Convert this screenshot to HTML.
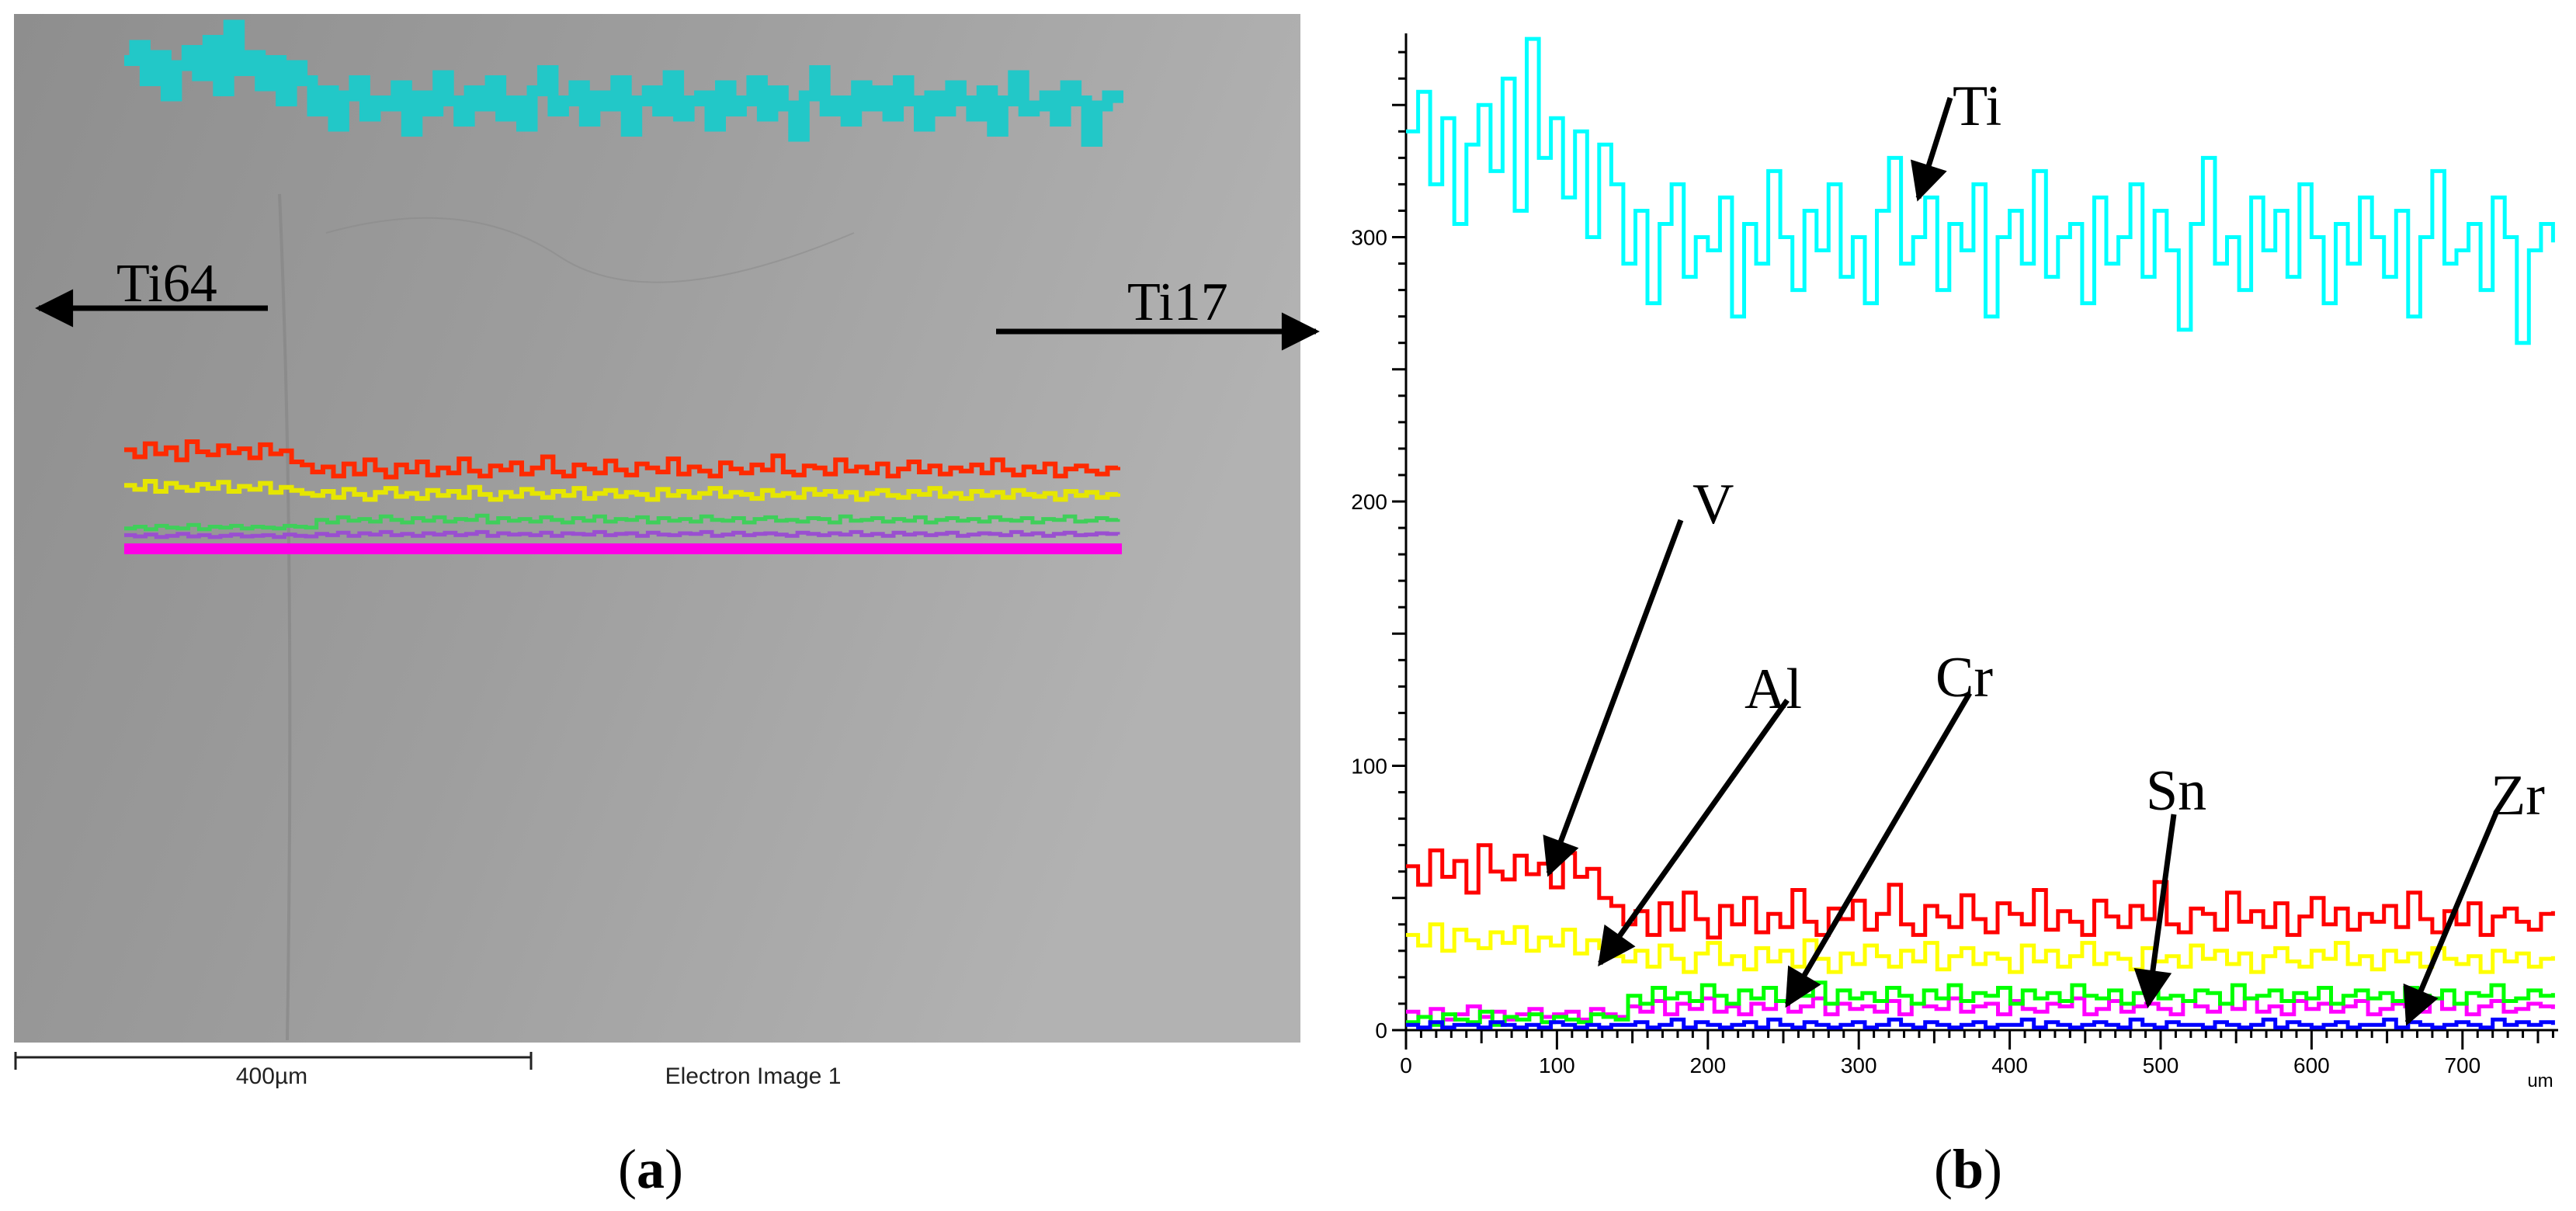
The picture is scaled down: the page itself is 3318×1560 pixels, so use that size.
<!DOCTYPE html>
<html><head><meta charset="utf-8">
<style>
html,body{margin:0;padding:0;background:#fff;}
body{width:3318px;height:1560px;overflow:hidden;position:relative;font-family:"Liberation Sans",sans-serif;}
svg{position:absolute;left:0;top:0;}
</style></head>
<body>
<svg id="fig" width="3318" height="1560" viewBox="0 0 3318 1560">
  <defs>
    <linearGradient id="bg" x1="0" y1="0" x2="1" y2="0.3">
      <stop offset="0" stop-color="#8e8e8e"/>
      <stop offset="0.5" stop-color="#9e9e9e"/>
      <stop offset="1" stop-color="#b2b2b2"/>
    </linearGradient>
    <marker id="ah" viewBox="0 0 10 10" refX="9" refY="5" markerWidth="8" markerHeight="7" orient="auto-start-reverse" markerUnits="strokeWidth">
      <path d="M0,0 L10,5 L0,10 z" fill="#000"/>
    </marker>
  </defs>
  <g>
    <rect x="18" y="18" width="1657" height="1325" fill="url(#bg)"/>
    <path d="M360,250 Q380,700 370,1340" stroke="#7f7f7f" stroke-width="4" fill="none" opacity="0.5"/>
    <path d="M420,300 Q600,250 720,330 T1100,300" stroke="#888" stroke-width="2" fill="none" opacity="0.5"/>
    <g id="overlay"></g>
    <text x="150" y="388" font-family="Liberation Serif, serif" font-size="70" fill="#000">Ti64</text>
    <line x1="345" y1="397" x2="50" y2="397" stroke="#000" stroke-width="7" marker-end="url(#ah)"/>
    <text x="1452" y="412" font-family="Liberation Serif, serif" font-size="70" fill="#000">Ti17</text>
    <line x1="1283" y1="427" x2="1695" y2="427" stroke="#000" stroke-width="7" marker-end="url(#ah)"/>
    <g>
      <line x1="19" y1="1362" x2="685" y2="1362" stroke="#222" stroke-width="3"/>
      <line x1="20" y1="1355" x2="20" y2="1378" stroke="#222" stroke-width="3"/>
      <line x1="684" y1="1355" x2="684" y2="1378" stroke="#222" stroke-width="3"/>
      <text x="350" y="1396" font-size="30" text-anchor="middle" fill="#222">400µm</text>
    </g>
    <text x="970" y="1396" font-size="30" text-anchor="middle" fill="#222">Electron Image 1</text>
    <text x="838" y="1530" font-family="Liberation Serif, serif" font-size="72" text-anchor="middle" fill="#000">(<tspan font-weight="bold">a</tspan>)</text>
  </g>
  <g id="chart"></g>
  <text x="2535" y="1530" font-family="Liberation Serif, serif" font-size="72" text-anchor="middle" fill="#000">(<tspan font-weight="bold">b</tspan>)</text>
</svg>
<script>
const xTicks = [0,100,200,300,400,500,600,700];
const yTicks = [0,100,200,300];
const seriesNames = ["Ti","V","Al","Cr","Sn","Zr"];
const tiValues = [340,355,320,345,305,335,350,325,360,310,375,330,345,315,340,300,335,320,
290,310,275,305,320,285,300,295,315,270,305,290,325,300,280,310,295,320,285,300,275,310,330,290,300,315,280,305,295,320,270,300,310,290,325,285,300,305,275,315,290,300,320,285,310,295,265,305,330,290,300,280,315,295,310,285,320,300,275,305,290,315,300,285,310,270,300,325,290,295,305,280,315,300,260,295,305,298];
const vValues = [62,55,68,58,64,52,70,60,57,66,59,63,54,67,58,61,50,47,
40,45,36,48,38,52,42,35,47,40,50,37,44,39,53,41,36,46,42,49,38,44,55,40,36,47,43,39,51,42,37,48,44,40,53,38,45,41,36,49,43,39,47,42,56,40,37,46,44,38,52,41,45,39,48,36,43,50,40,46,38,44,41,47,39,52,42,37,45,40,48,36,43,46,41,38,44,45];
const alValues = [36,32,40,30,38,34,31,37,33,39,30,35,32,38,29,34,31,28,
26,30,24,32,27,22,29,33,25,28,23,31,26,30,24,34,27,22,29,25,32,28,24,30,26,33,23,28,31,25,29,27,22,32,26,30,24,28,33,25,29,27,23,31,26,28,24,32,27,30,25,29,22,28,31,26,24,30,27,33,25,28,23,30,26,29,24,31,27,25,28,22,30,26,29,24,27,28];
const crValues = [3,5,2,6,4,3,7,2,5,4,6,3,5,4,3,6,5,4,
13,10,16,12,14,11,17,13,10,15,12,16,11,14,13,18,10,15,12,14,11,16,13,10,15,12,17,11,14,13,16,10,15,12,14,11,17,13,12,15,10,14,16,12,13,11,15,14,10,17,12,13,15,11,14,12,16,10,13,15,12,14,11,16,13,12,15,10,14,13,17,11,12,15,13,14];
const snValues = [7,5,8,4,6,9,5,7,4,6,8,5,6,7,4,8,6,5,
9,7,11,6,10,8,12,7,9,6,10,8,11,7,9,12,6,10,8,9,7,11,6,10,9,8,12,7,9,10,6,11,8,7,10,9,12,6,8,11,7,9,10,8,6,11,9,7,10,8,12,7,9,6,11,8,10,7,9,11,6,8,10,9,7,12,8,10,6,9,11,7,8,10,9,8];
const zrValues = [2,1,3,1,2,2,1,3,2,1,2,1,3,2,1,2,1,2,
2,3,1,2,4,1,3,2,1,2,3,1,4,2,1,3,2,1,2,3,1,2,4,2,1,3,2,1,2,3,1,2,2,4,1,3,2,1,2,3,2,1,4,2,1,3,2,2,1,3,2,1,2,4,1,3,2,1,2,3,1,2,2,4,1,3,2,1,2,3,2,1,4,2,3,2,3,2];
const xMax = 760;

const NS = "http://www.w3.org/2000/svg";
function mk(tag, attrs, parent){const e=document.createElementNS(NS,tag);for(const k in attrs)e.setAttribute(k,attrs[k]);parent.appendChild(e);return e;}

const X0=1811, PXU=1.944, Y0=1327, PYU=3.405;
const xs = v => X0 + v*PXU;
const ys = v => Y0 - v*PYU;
const xAt = (i,n) => xs(i*xMax/(n-1));

const chart = document.getElementById('chart');
const yAxis = mk('line',{x1:X0,y1:43,x2:X0,y2:Y0,stroke:'#000','stroke-width':3},chart);


const xAxis = mk('line',{x1:X0,y1:Y0,x2:3295,y2:Y0,stroke:'#000','stroke-width':3},chart);


for(let v=0; v<=370; v+=10){
  const major = v%100===0, half = v%50===0;
  mk('line',{x1:X0-(major?18:half?18:10),y1:ys(v),x2:X0,y2:ys(v),stroke:'#000','stroke-width':3},chart);
}
yTicks.forEach(v=>{
  const t=mk('text',{x:X0-24,y:ys(v)+10,'font-size':28,'text-anchor':'end',fill:'#000'},chart);
  t.textContent=v;
  
  
});
for(let v=0; v<=xMax; v+=10){
  const major=v%100===0, half=v%50===0;
  mk('line',{x1:xs(v),y1:Y0,x2:xs(v),y2:Y0+(major?25:half?17:10),stroke:'#000','stroke-width':3},chart);
}
xTicks.forEach(v=>{
  const t=mk('text',{x:xs(v),y:Y0+55,'font-size':28,'text-anchor':'middle',fill:'#000'},chart);
  t.textContent=v;
  
  
});
const um=mk('text',{x:3272,y:1400,'font-size':24,'text-anchor':'middle',fill:'#000'},chart);
um.textContent='um';



function stepPath(vals, fx, fy){
  let d='';const n=vals.length;
  for(let i=0;i<n;i++){
    const x=fx(i,n), y=fy(vals[i]);
    if(i===0) d+='M'+x.toFixed(1)+','+y.toFixed(1);
    else d+=' H'+x.toFixed(1)+' V'+y.toFixed(1);
  }
  return d;
}
const series = [
  {name:'ti',vals:tiValues,c:'#00ffff'},
  {name:'v',vals:vValues,c:'#ff0000'},
  {name:'al',vals:alValues,c:'#ffff00'},
  {name:'sn',vals:snValues,c:'#ff00ff'},
  {name:'cr',vals:crValues,c:'#00ff00'},
  {name:'zr',vals:zrValues,c:'#0000ff'}
];
series.forEach(s=>{
  const p=mk('path',{d:stepPath(s.vals,xAt,ys),fill:'none',stroke:s.c,'stroke-width':5},chart);
  
  
});

const ann = [
  {t:'Ti',x:2515,y:161,ax1:2512,ay1:126,ax2:2471,ay2:255},
  {t:'V',x:2180,y:674,ax1:2165,ay1:670,ax2:1995,ay2:1125},
  {t:'Al',x:2247,y:912,ax1:2302,ay1:902,ax2:2061,ay2:1241},
  {t:'Cr',x:2493,y:897,ax1:2537,ay1:893,ax2:2302,ay2:1294},
  {t:'Sn',x:2764,y:1043,ax1:2800,ay1:1049,ax2:2767,ay2:1294},
  {t:'Zr',x:3208,y:1049,ax1:3216,ay1:1045,ax2:3101,ay2:1317}
];
ann.forEach(a=>{
  const t=mk('text',{x:a.x,y:a.y,'font-family':'Liberation Serif, serif','font-size':74,fill:'#000'},chart);
  t.textContent=a.t;
  
  
  const l=mk('line',{x1:a.ax1,y1:a.ay1,x2:a.ax2,y2:a.ay2,stroke:'#000','stroke-width':7,'marker-end':'url(#ah)'},chart);
  
  
});

const ov=document.getElementById('overlay');
const oxAt=(i,n)=>160+i*(1440-160)/(n-1);
const ovDefs=[
  {vals:tiValues,c:'#22c8c8',fy:v=>520-v*1.3,w:14},
  {vals:vValues,c:'#ff2a00',fy:v=>660-v*1.3,w:6},
  {vals:alValues,c:'#e6e600',fy:v=>672-v*1.3,w:6},
  {vals:crValues,c:'#3fcf5a',fy:v=>684-v*1.1,w:5},
  {vals:snValues,c:'#9a4fd0',fy:v=>695-v*0.8,w:5}
];
ovDefs.forEach(o=>{
  const p=mk('path',{d:stepPath(o.vals,oxAt,o.fy),fill:'none',stroke:o.c,'stroke-width':o.w},ov);
  
  
});
const mag=mk('rect',{x:160,y:700,width:1285,height:14,fill:'#ff00e6'},ov);


</script>
</body></html>
